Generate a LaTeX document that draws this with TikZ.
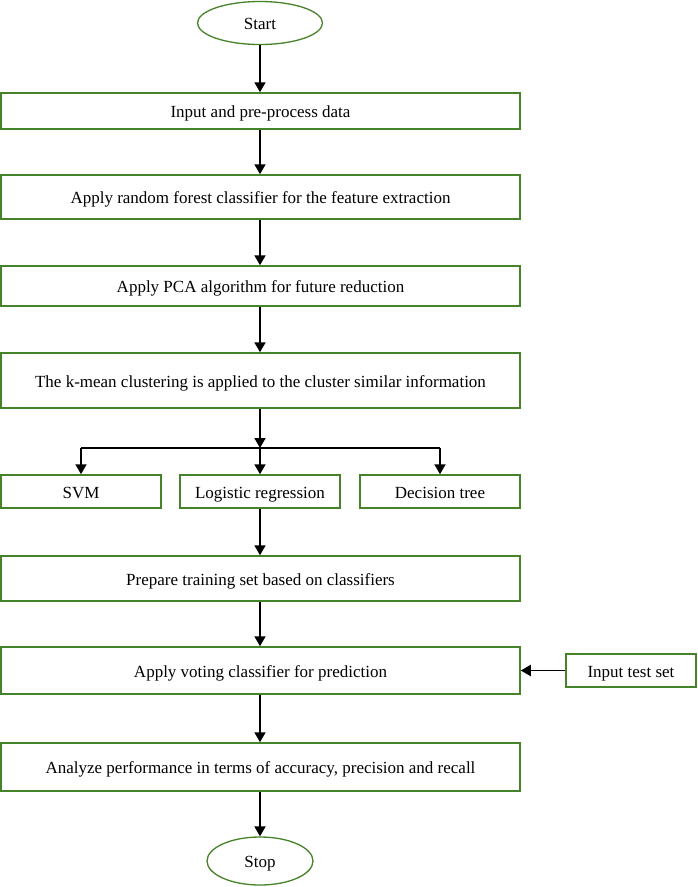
\documentclass[tikz,border=0pt]{standalone}
\usepackage{fontspec}
\setmainfont{Liberation Serif}
\usetikzlibrary{arrows.meta,shapes.geometric}
\definecolor{boxgreen}{RGB}{70,130,40}
\tikzset{
  stepbox/.style={draw=boxgreen, line width=1.5pt, fill=white, rectangle, inner sep=0pt, text height=16pt, text depth=3pt, font=\fontsize{17}{19}\selectfont},
  term/.style={draw=boxgreen, line width=1.3pt, fill=white, ellipse, inner sep=0pt, text height=16pt, text depth=3pt, font=\fontsize{17}{19}\selectfont},
  arr/.style={line width=1.9pt, -{Triangle[width=11pt,length=10pt]}},
  ln/.style={line width=1.9pt}
}
\begin{document}
\begin{tikzpicture}[x=1pt,y=-1pt]
\useasboundingbox (0,0) rectangle (697,887);
\node[term, minimum width=125pt, minimum height=43pt] (start) at (260,23) {Start};
\node[stepbox, minimum width=519pt, minimum height=36pt] (b1) at (260.5,111) {Input and pre-process data};
\node[stepbox, minimum width=519pt, minimum height=44pt] (b2) at (260.5,197) {Apply random forest classifier for the feature extraction};
\node[stepbox, minimum width=519pt, minimum height=40pt] (b3) at (260.5,286) {Apply PCA algorithm for future reduction};
\node[stepbox, minimum width=519pt, minimum height=55pt] (b4) at (260.5,380.5) {The k-mean clustering is applied to the cluster similar information};
\node[stepbox, minimum width=160pt, minimum height=33pt] (svm) at (81,491.5) {SVM};
\node[stepbox, minimum width=160pt, minimum height=33pt] (lr) at (260,491.5) {Logistic regression};
\node[stepbox, minimum width=160pt, minimum height=33pt] (dt) at (440,491.5) {Decision tree};
\node[stepbox, minimum width=519pt, minimum height=45pt] (b5) at (260.5,578.5) {Prepare training set based on classifiers};
\node[stepbox, minimum width=519pt, minimum height=47pt] (b6) at (260.5,670.5) {Apply voting classifier for prediction};
\node[stepbox, minimum width=130pt, minimum height=33pt] (ts) at (631,670.5) {Input test set};
\node[stepbox, minimum width=519pt, minimum height=48pt] (b7) at (260.5,767) {Analyze performance in terms of accuracy, precision and recall};
\node[term, minimum width=106pt, minimum height=48pt] (stop) at (260,861) {Stop};
\coordinate (br) at (260,448);
\coordinate (brl) at (81,448);
\coordinate (brr) at (440,448);
\draw[arr] (start.south) -- (start.south |- b1.north);
\draw[arr] (b1.south -| start) -- (b2.north -| start);
\draw[arr] (b2.south -| start) -- (b3.north -| start);
\draw[arr] (b3.south -| start) -- (b4.north -| start);
\draw[arr] (b4.south -| br) -- (br);
\draw[ln] (brl) -- (brr);
\draw[arr] (brl) -- (svm.north);
\draw[arr] (br) -- (lr.north);
\draw[arr] (brr) -- (dt.north);
\draw[arr] (lr.south) -- (lr.south |- b5.north);
\draw[arr] (b5.south -| lr) -- (b6.north -| lr);
\draw[arr] (ts.west) -- (b6.east);
\draw[arr] (b6.south -| lr) -- (b7.north -| lr);
\draw[arr] (b7.south -| stop) -- (stop.north);
\end{tikzpicture}
\end{document}
